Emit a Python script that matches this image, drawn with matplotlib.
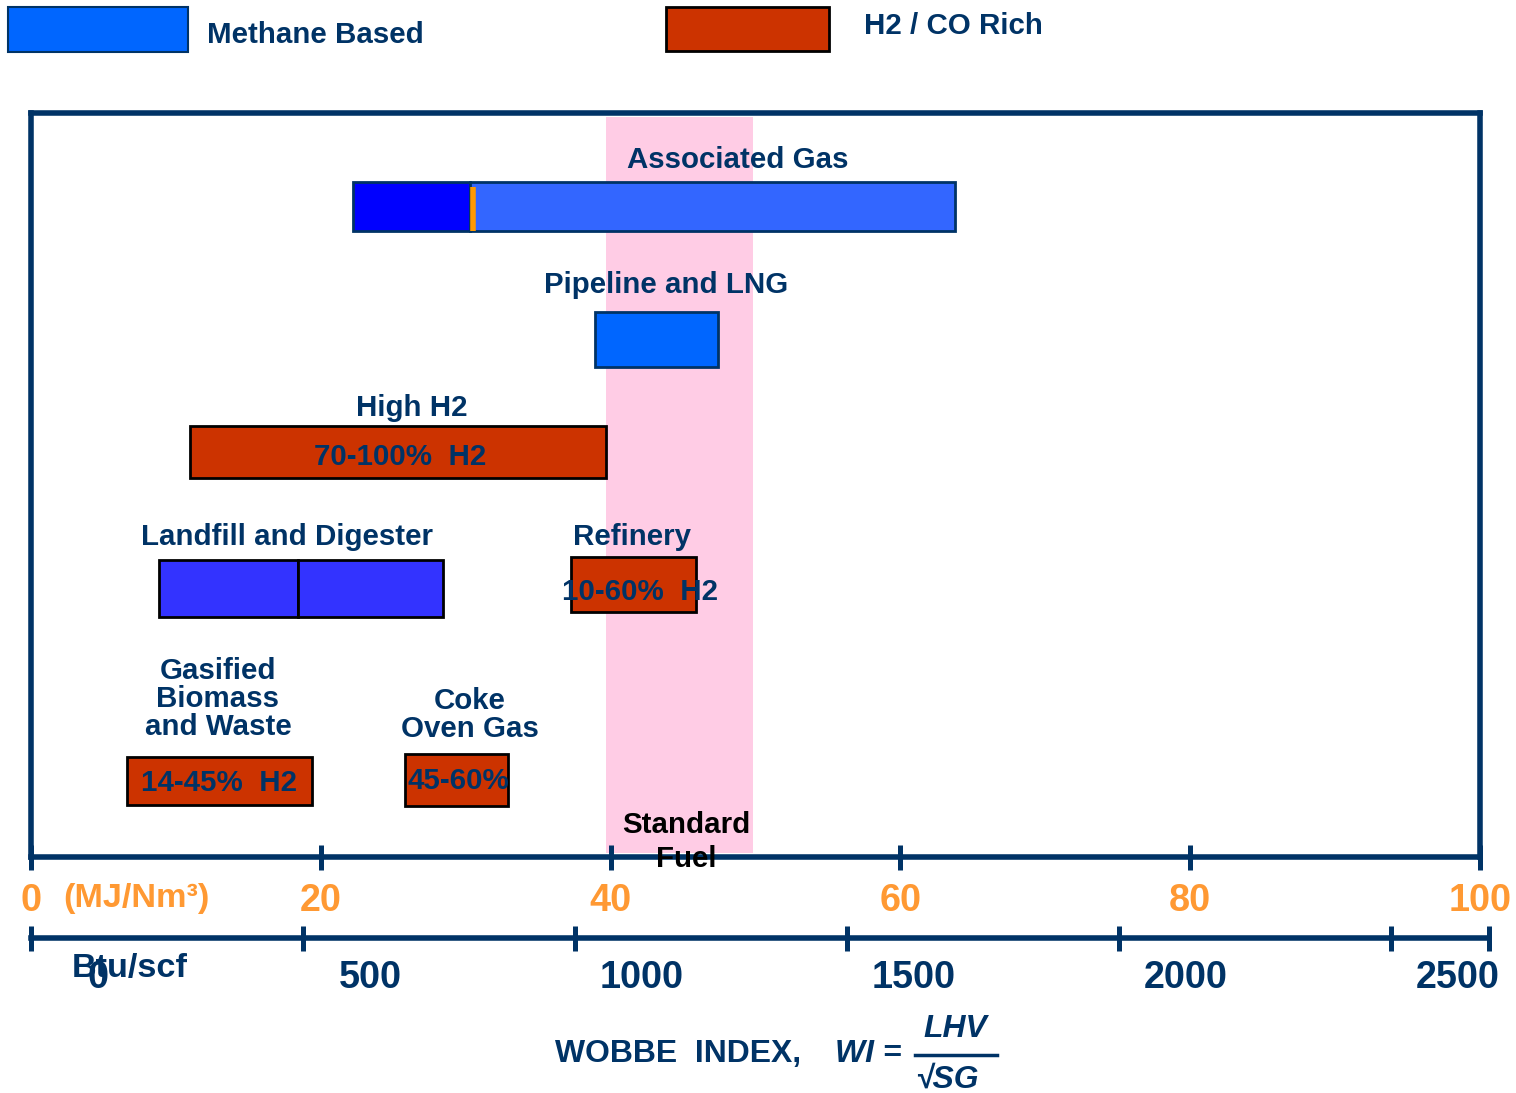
import matplotlib
matplotlib.use("Agg")
import matplotlib.pyplot as plt
from matplotlib import font_manager
from matplotlib.patches import Rectangle
from matplotlib.lines import Line2D
from matplotlib.transforms import ScaledTranslation

# ---------------------------------------------------------------- data
mj_ticks = [0, 20, 40, 60, 80, 100]            # Wobbe index, MJ/Nm3
btu_ticks = [0, 500, 1000, 1500, 2000, 2500]   # Wobbe index, Btu/scf
btu_max = 2680                                 # 100 MJ/Nm3 in Btu/scf

sources = ["Associated Gas", "Pipeline and LNG", "High H2",
           "Landfill and Digester", "Refinery",
           "Gasified\nBiomass\nand Waste", "Coke\nOven Gas"]
fuel_type = ["methane", "methane", "h2co", "methane", "h2co", "h2co", "h2co"]
wobbe_low = [22.2, 38.9, 11.0, 8.8, 37.3, 6.6, 25.8]
wobbe_high = [63.8, 47.4, 39.7, 28.4, 45.9, 19.4, 32.9]
wobbe_split = [30.3, None, None, 18.4, None, None, None]
h2_content = ["", "", "70-100%  H2", "", "10-60%  H2", "14-45%  H2", "45-60%"]
assoc_marker = 30.5                             # marker inside Associated Gas range
standard_fuel = (39.7, 49.8)                    # standard fuel Wobbe window

# ---------------------------------------------------------------- style
NAVY = "#003366"
ORANGE = "#FF9933"
PINK = "#FFCCE5"
RED = "#CC3300"
fills = {
    "Associated Gas": ["#0000FF", "#3366FF"],
    "Pipeline and LNG": ["#0066FF"],
    "Landfill and Digester": ["#3333FF", "#3333FF"],
}

names = {f.name for f in font_manager.fontManager.ttflist}
if "Liberation Sans Narrow" in names:
    FONT, S = "Liberation Sans Narrow", 1.0
else:
    FONT, S = "Liberation Sans", 0.85
plt.rcParams["font.family"] = [FONT, "DejaVu Sans"]
plt.rcParams["font.weight"] = "bold"

W, H = 1516, 1093
fig = plt.figure(figsize=(W / 100, H / 100), dpi=100)


def fx(px):
    return px / W


def fy(py):
    return 1 - py / H


# row layout (vertical centre, bar height) in the frame's pixel-like units
row_y = [206.5, 339.5, 452, 588.5, 584.5, 781, 780]
row_h = [49, 55, 52, 57, 55, 48, 52]
title_xy = [(48.8, 160), (43.8, 285), (26.3, 408), (17.7, 537), (41.5, 537),
            (12.9, 699), (30.3, 715)]
inner_xy = [None, None, (25.5, 457), None, (42.0, 592), (13.0, 783), (29.5, 781)]

ax = fig.add_axes([fx(31), fy(857), fx(1480) - fx(31), fy(113) - fy(857)])
ax.set_xlim(0, 100)
ax.set_ylim(857, 113)
ax.set_yticks([])
for sp in ax.spines.values():
    sp.set_color(NAVY)
    sp.set_linewidth(4)
ax.set_xticks(mj_ticks)
ax.tick_params(axis="x", direction="inout", length=18, width=3.6, color=NAVY,
               labelcolor=ORANGE, labelsize=32 * S, pad=10)

ax.axvspan(*standard_fuel, ymin=0.005, ymax=0.995, color=PINK, lw=0, zorder=0)
ax.text(sum(standard_fuel) / 2 + 0.5, 842, "Standard\nFuel", ha="center", va="center",
        fontsize=25 * S, color="black", linespacing=1.3, zorder=3)

for i, name in enumerate(sources):
    lo, hi, split = wobbe_low[i], wobbe_high[i], wobbe_split[i]
    if fuel_type[i] == "h2co":
        ax.barh(row_y[i], hi - lo, left=lo, height=row_h[i], color=RED,
                edgecolor="black", lw=2, zorder=2)
    else:
        cols = fills[name]
        edge = NAVY if name != "Landfill and Digester" else "black"
        if split is None:
            ax.barh(row_y[i], hi - lo, left=lo, height=row_h[i], color=cols[0],
                    edgecolor=edge, lw=2, zorder=2)
        else:
            ax.barh(row_y[i], split - lo, left=lo, height=row_h[i], color=cols[0],
                    edgecolor=edge, lw=2, zorder=2)
            ax.barh(row_y[i], hi - split, left=split, height=row_h[i], color=cols[1],
                    edgecolor=edge, lw=2, zorder=2)
    tx, ty = title_xy[i]
    ax.text(tx, ty, name, ha="center", va="center", fontsize=25 * S, color=NAVY,
            linespacing=1.0, zorder=3)
    if inner_xy[i] is not None:
        ix, iy = inner_xy[i]
        ax.text(ix, iy, h2_content[i], ha="center", va="center", fontsize=25 * S,
                color=NAVY, zorder=3)

ax.vlines(assoc_marker, row_y[0] - row_h[0] / 2 + 5, row_y[0] + row_h[0] / 2,
          color="#FF9900", lw=4, zorder=3)

ax.text(2.2, 899, "(MJ/Nm³)", ha="left", va="center", fontsize=29 * S,
        color=ORANGE, transform=ax.transData, clip_on=False)

# second scale in Btu/scf
axb = fig.add_axes([fx(31), fy(938), fx(1489) - fx(31), 0.0001])
axb.patch.set_visible(False)
axb.set_xlim(0, btu_max)
axb.set_yticks([])
for s in ["top", "left", "right"]:
    axb.spines[s].set_visible(False)
axb.spines["bottom"].set_color(NAVY)
axb.spines["bottom"].set_linewidth(4)
axb.set_xticks(btu_ticks + [btu_max], labels=[str(b) for b in btu_ticks] + [""])
axb.tick_params(axis="x", direction="inout", length=18, width=3.6, color=NAVY,
                labelcolor=NAVY, labelsize=32 * S, pad=7)
shift = ScaledTranslation(0.67, 0, fig.dpi_scale_trans)
for lab in axb.get_xticklabels():
    lab.set_transform(lab.get_transform() + shift)
fig.text(fx(72), fy(969), "Btu/scf", ha="left", va="center", fontsize=29 * S, color=NAVY)

# legend swatches
fig.patches.append(Rectangle((fx(8), fy(52)), fx(188) - fx(8), fy(7) - fy(52),
                             transform=fig.transFigure, facecolor="#0066FF",
                             edgecolor=NAVY, lw=1.5))
fig.text(fx(207), fy(35), "Methane Based", ha="left", va="center",
         fontsize=25 * S, color=NAVY)
fig.patches.append(Rectangle((fx(666), fy(51)), fx(829) - fx(666), fy(7) - fy(51),
                             transform=fig.transFigure, facecolor=RED,
                             edgecolor="black", lw=2))
fig.text(fx(864), fy(26), "H2 / CO Rich", ha="left", va="center",
         fontsize=25 * S, color=NAVY)

# axis title with the Wobbe index definition
fig.text(fx(555), fy(1054), "WOBBE  INDEX,", ha="left", va="center",
         fontsize=27 * S, color=NAVY)
fig.text(fx(835), fy(1054), "WI =", ha="left", va="center", style="italic",
         fontsize=27 * S, color=NAVY)
fig.text(fx(955), fy(1029), "LHV", ha="center", va="center", style="italic",
         fontsize=27 * S, color=NAVY)
fig.lines.append(Line2D([fx(915), fx(997)], [fy(1055), fy(1055)],
                        transform=fig.transFigure, color=NAVY, lw=2.5))
fig.text(fx(947), fy(1080), "√SG", ha="center", va="center", style="italic",
         fontsize=27 * S, color=NAVY)

fig.savefig("out.png", dpi=100, facecolor="white")
